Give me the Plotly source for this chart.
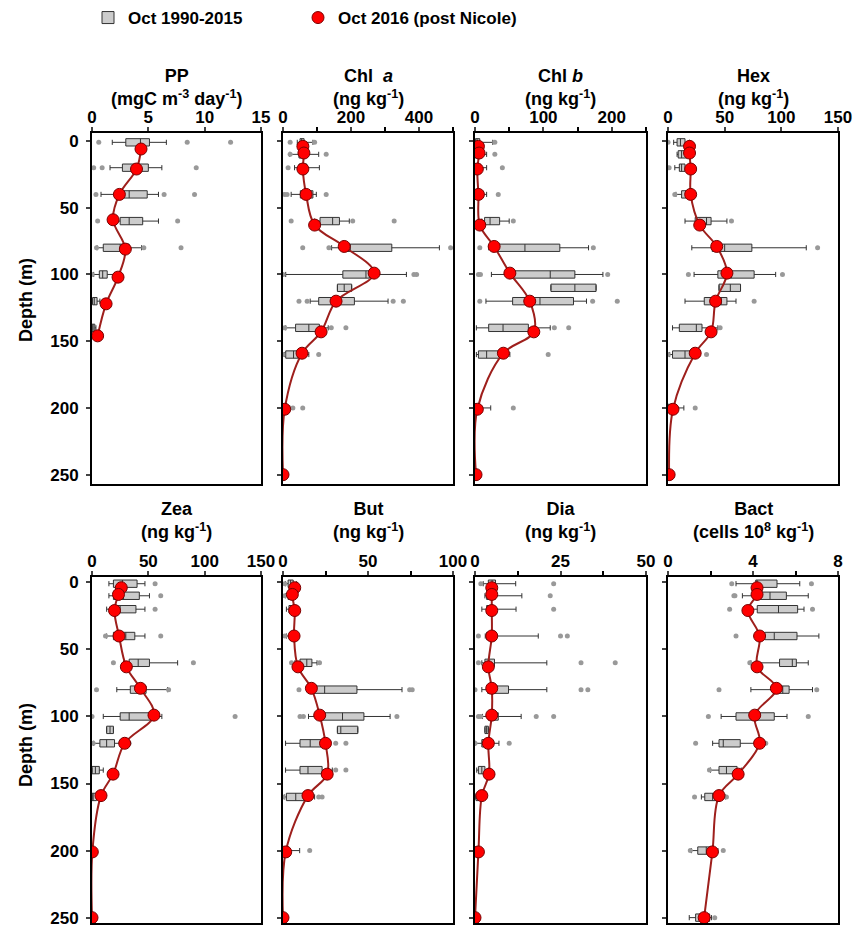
import plotly.graph_objects as go

# ---------------- data ----------------
RED_DEPTH = [4, 9, 21, 40, 63, 79, 99, 120, 143, 159, 201, 250]
BOX_DEPTH = [1, 10, 20, 40, 60, 80, 100, 110, 120, 140, 160, 200, 250]

# PP
PP_box_depth = [1, 20, 40, 60, 80, 100, 120, 140]
PP_lf = [1.8, 1.6, 0.8, 1.9, 0.45, 0.15, 0.0, 0.0]
PP_q1 = [3.0, 2.7, 2.8, 2.5, 1.0, 0.65, 0.05, 0.0]
PP_med = [4.3, 3.7, 3.3, 3.3, 2.5, 0.95, 0.2, 0.1]
PP_q3 = [5.1, 5.0, 4.9, 4.5, 3.3, 1.35, 0.45, 0.25]
PP_uf = [6.6, 6.2, 5.9, 5.9, 4.4, 2.0, 0.7, 0.35]
PP_out_depth = [1, 1, 1, 20, 20, 20, 40, 40, 40, 60, 60, 80, 80, 80, 100]
PP_out_val = [0.6, 8.45, 12.3, 0.15, 0.9, 9.25, 0.35, 6.4, 9.1, 0.5, 7.6, 0.4, 4.6, 7.9, 0.0]
PP_red_depth = [6, 21, 40, 59, 81, 102, 122, 146]
PP_red_val = [4.35, 3.95, 2.43, 1.87, 2.96, 2.31, 1.25, 0.5]

# Chl a
CHLA_lf = [42, 20, 34, 24, 93, 143, 8, 160, 80, 8, 5, 0, 0]
CHLA_q1 = [50, 47, 47, 51, 109, 185, 176, 160, 105, 37, 8, 0, 0]
CHLA_med = [55, 55, 58, 68, 146, 198, 244, 180, 144, 76, 31, 4, 1]
CHLA_q3 = [62, 66, 70, 88, 166, 320, 254, 202, 210, 107, 44, 10, 3]
CHLA_uf = [88, 105, 107, 98, 195, 460, 363, 202, 309, 133, 76, 20, 6]
CHLA_out_depth = [1, 1, 10, 10, 20, 40, 40, 40, 60, 60, 60, 80, 80, 80, 100, 100, 100,
                  120, 120, 120, 120, 140, 140, 140, 160, 160, 200, 200]
CHLA_out_val = [21, 93, 21, 127, 15, 5, 12, 127, 24, 205, 327, 58, 135, 493, 0, 385, 393,
                47, 71, 324, 354, 5, 142, 185, 0, 105, 29, 58]
CHLA_red_val = [58.5, 61.5, 58.5, 68, 93, 180, 268, 156, 112, 56, 5, 0]

# Chl b
CHLB_lf = [0, 0, 0, 0, 10, 20, 24, 111, 16, 2, 2, 0, 0]
CHLB_q1 = [0.5, 0.5, 0.5, 0.5, 14, 29, 51, 111, 55, 20, 5, 0, 0]
CHLB_med = [3, 3, 3, 4, 22, 73, 110, 146, 95, 41, 17, 1, 0.5]
CHLB_q3 = [7, 10, 8, 10, 36, 124, 146, 177, 144, 78, 41, 5, 2]
CHLB_uf = [26, 17, 17, 17, 50, 166, 187, 177, 163, 110, 51, 23, 4]
CHLB_out_depth = [1, 10, 20, 40, 60, 80, 80, 100, 100, 100, 120, 120, 120, 140, 140, 160, 200]
CHLB_out_val = [29, 29, 40, 34, 56, 7, 173, 5, 8, 194, 7, 172, 208, 116, 137, 107, 56]
CHLB_red_val = [5, 6, 3.4, 5, 7, 28, 51, 80, 86, 41.5, 3.4, 1.5]

# Hex
HEX_lf = [5, 8, 6, 7, 15, 21, 23, 45, 15, 4, 1.5, 0, 0]
HEX_q1 = [8, 9, 10, 12, 24, 39, 44, 45, 32, 10, 4, 0, 0]
HEX_med = [11, 12, 12, 16, 34, 50, 56, 55, 47, 25, 15, 1, 0.5]
HEX_q3 = [15, 17, 15, 20, 38, 74, 76, 64, 52, 30, 21, 4, 1.5]
HEX_uf = [19, 20, 19, 22, 52, 122, 95, 64, 60, 44, 27, 14, 3]
HEX_out_depth = [1, 20, 40, 60, 80, 100, 100, 120, 140, 160, 160, 200]
HEX_out_val = [0, 1, 6, 56, 132, 18, 101, 76, 46, 0, 34, 24]
HEX_red_val = [19, 19, 20, 20, 28, 43, 52, 42, 38, 24, 4.4, 1]

# Zea
ZEA_lf = [15, 15, 13, 13, 28, 22, 10, 13, 1.5, 0, 0, 0, 0]
ZEA_q1 = [19, 19, 19, 19, 33, 34, 25, 13, 7, 0, 0, 0, 0]
ZEA_med = [27, 28, 25, 30, 41, 41, 33, 16, 13, 3, 1, 0.2, 0.1]
ZEA_q3 = [40, 42, 39, 38, 51, 48, 54, 19, 20, 6.5, 4, 0.5, 0.3]
ZEA_uf = [47, 51, 47, 47, 76, 67, 62, 19, 31, 10, 6, 1, 0.5]
ZEA_out_depth = [1, 10, 20, 40, 40, 60, 60, 80, 80, 100, 100, 120, 120]
ZEA_out_val = [56, 61, 56, 12, 61, 19, 90, 4, 68, 0, 127, 1, 33]
ZEA_red_val = [26, 23.5, 20, 24, 30.5, 43, 55, 29, 18.7, 8, 0.3, 0]

# But
BUT_lf = [1.5, 1.5, 2, 2, 7, 14, 15, 32, 1.5, 1.5, 1, 0, 0]
BUT_q1 = [3, 3, 3.5, 4, 10, 17, 23.5, 32, 10, 10, 2, 0, 0]
BUT_med = [4.5, 4.5, 5, 5.5, 14, 24.5, 35, 34, 16, 14.7, 7.5, 1, 0.3]
BUT_q3 = [6, 6, 6.5, 7, 17, 43.5, 47.6, 44, 23.5, 23, 13, 3, 1]
BUT_uf = [8, 8, 7.5, 8, 20, 70, 63, 44, 28, 29, 18.6, 9.8, 2]
BUT_out_depth = [1, 10, 40, 60, 60, 80, 80, 80, 100, 100, 100, 120, 120, 140, 140, 160, 160, 160, 200]
BUT_out_val = [1, 1, 1, 5, 21.5, 9.4, 74.5, 76, 10, 12, 67, 31, 37, 31, 37, 0, 21, 23, 15.7]
BUT_red_val = [6.9, 5.5, 6.9, 6.5, 8.8, 16.7, 21.6, 25, 26, 14.7, 1.6, 0]

# Dia
DIA_lf = [2.4, 2.9, 2, 3, 2, 2, 2.2, 2.9, 0, 0.5, 0.2, 0, 0]
DIA_q1 = [3.9, 3.4, 3.4, 3.4, 2.9, 3.7, 3.9, 2.9, 2, 1, 0.3, 0, 0]
DIA_med = [5, 4.5, 4.5, 4.5, 4, 4.9, 5, 3.4, 2.7, 2, 1, 0.3, 0.1]
DIA_q3 = [6, 5.9, 5.5, 5.9, 5.7, 9.8, 6.8, 3.9, 3.4, 2.9, 1.7, 1, 0.5]
DIA_uf = [11.9, 13.7, 12, 18.5, 21, 21, 13.5, 3.9, 7, 4, 2.5, 1.5, 1]
DIA_out_depth = [1, 1, 10, 20, 40, 40, 40, 60, 60, 60, 80, 80, 80, 100, 100, 100, 100, 120, 120]
DIA_out_val = [1.7, 23, 22, 23, 1, 25, 27, 1, 31, 41, 0, 31, 33, 1, 1.7, 17.9, 23, 0, 10]
DIA_red_val = [4.9, 4.9, 4.9, 4.9, 3.9, 4.9, 4.9, 3.9, 4.1, 2, 1, 0]

# Bact
BACT_box_depth = [1, 10, 20, 40, 60, 80, 100, 120, 140, 160, 200, 250]
BACT_lf = [3.2, 3.5, 3.8, 4.3, 3.9, 3.9, 2.5, 2.1, 2.0, 1.57, 1.1, 1.0]
BACT_q1 = [4.13, 4.28, 4.2, 4.55, 5.25, 5.0, 3.2, 2.4, 2.4, 1.73, 1.4, 1.3]
BACT_med = [4.19, 4.8, 5.2, 5.0, 5.85, 5.4, 4.0, 2.6, 2.75, 2.1, 1.8, 1.55]
BACT_q3 = [5.13, 5.57, 6.1, 6.07, 6.04, 5.7, 5.0, 3.4, 3.25, 2.3, 2.04, 1.96]
BACT_uf = [6.2, 6.6, 6.4, 7.1, 6.6, 6.8, 5.6, 4.5, 3.45, 2.7, 2.35, 2.05]
BACT_out_depth = [1, 1, 10, 10, 20, 20, 40, 60, 80, 80, 100, 100, 120, 120, 140, 160, 160, 200, 200, 250]
BACT_out_val = [3.0, 6.75, 3.1, 3.15, 2.9, 6.8, 3.2, 3.85, 2.4, 7.0, 1.9, 6.6, 1.3, 4.6, 1.95, 1.25, 2.75, 1.05, 2.6, 2.2]
BACT_red_val = [4.19, 4.19, 3.76, 4.31, 4.19, 5.1, 4.08, 4.31, 3.3, 2.4, 2.09, 1.7]

TITLES = ["PP<br>(mgC m<sup>-3</sup> day<sup>-1</sup>)", "Chl  <i>a</i><br>(ng kg<sup>-1</sup>)",
          "Chl <i>b</i><br>(ng kg<sup>-1</sup>)", "Hex<br>(ng kg<sup>-1</sup>)",
          "Zea<br>(ng kg<sup>-1</sup>)", "But<br>(ng kg<sup>-1</sup>)",
          "Dia<br>(ng kg<sup>-1</sup>)", "Bact<br>(cells 10<sup>8</sup> kg<sup>-1</sup>)"]
X_TICKVALS = [[0, 5, 10, 15], [0, 200, 400], [0, 100, 200], [0, 50, 100, 150],
              [0, 50, 100, 150], [0, 50, 100], [0, 25, 50], [0, 4, 8]]
X_MINORVALS = [[], [100, 300, 500], [50, 150, 250], [], [], [25, 75], [12.5, 37.5], [2, 6]]
X_RANGES = [[0, 15], [0, 500], [0, 250], [0, 150], [0, 150], [0, 100], [0, 50], [0, 8]]
DEPTH_TICKS = [0, 50, 100, 150, 200, 250]

panels = [
    (PP_box_depth, PP_lf, PP_q1, PP_med, PP_q3, PP_uf, PP_out_depth, PP_out_val, PP_red_depth, PP_red_val),
    (BOX_DEPTH, CHLA_lf, CHLA_q1, CHLA_med, CHLA_q3, CHLA_uf, CHLA_out_depth, CHLA_out_val, RED_DEPTH, CHLA_red_val),
    (BOX_DEPTH, CHLB_lf, CHLB_q1, CHLB_med, CHLB_q3, CHLB_uf, CHLB_out_depth, CHLB_out_val, RED_DEPTH, CHLB_red_val),
    (BOX_DEPTH, HEX_lf, HEX_q1, HEX_med, HEX_q3, HEX_uf, HEX_out_depth, HEX_out_val, RED_DEPTH, HEX_red_val),
    (BOX_DEPTH, ZEA_lf, ZEA_q1, ZEA_med, ZEA_q3, ZEA_uf, ZEA_out_depth, ZEA_out_val, RED_DEPTH, ZEA_red_val),
    (BOX_DEPTH, BUT_lf, BUT_q1, BUT_med, BUT_q3, BUT_uf, BUT_out_depth, BUT_out_val, RED_DEPTH, BUT_red_val),
    (BOX_DEPTH, DIA_lf, DIA_q1, DIA_med, DIA_q3, DIA_uf, DIA_out_depth, DIA_out_val, RED_DEPTH, DIA_red_val),
    (BACT_box_depth, BACT_lf, BACT_q1, BACT_med, BACT_q3, BACT_uf, BACT_out_depth, BACT_out_val, RED_DEPTH, BACT_red_val),
]

# ---------------- layout geometry (pixels) ----------------
W, H = 853, 927
COL_X = [(92, 261), (283, 453), (475, 646), (668, 838)]
ROW_Y = [(133, 484), (577, 923)]
ROW_RANGE = [[257, -6], [254, -4]]
TITLE_BOTTOM = [111, 544]
FONT = "Liberation Sans, Arial, sans-serif"

fig = go.Figure()
layout = dict(width=W, height=H, margin=dict(l=0, r=0, t=0, b=0, autoexpand=False),
              plot_bgcolor="white", paper_bgcolor="white",
              font=dict(family=FONT, color="black"), annotations=[])

for i, (bd, lf, q1, med, q3, uf, od, ov, rd, rv) in enumerate(panels):
    r, c = divmod(i, 4)
    xa = "x" if i == 0 else f"x{i+1}"
    ya = "y" if i == 0 else f"y{i+1}"
    fig.add_trace(go.Box(y=bd, lowerfence=lf, q1=q1, median=med, q3=q3, upperfence=uf,
                         orientation="h", xaxis=xa, yaxis=ya, width=5.5, whiskerwidth=0.7,
                         fillcolor="#cccccc", line=dict(color="#333333", width=1),
                         boxpoints=False, name="Oct 1990-2015", showlegend=(i == 0),
                         legend="legend"))
    fig.add_trace(go.Scatter(x=ov, y=od, mode="markers", xaxis=xa, yaxis=ya,
                             marker=dict(color="#999999", size=5), showlegend=False))
    fig.add_trace(go.Scatter(x=rv, y=rd, mode="lines", xaxis=xa, yaxis=ya,
                             line=dict(color="#9E1F1C", width=2, shape="spline", smoothing=1),
                             showlegend=False))
    fig.add_trace(go.Scatter(x=rv, y=rd, mode="markers", xaxis=xa, yaxis=ya,
                             marker=dict(color="#FF0000", size=12, line=dict(color="#7A0000", width=1)),
                             name="Oct 2016 (post Nicole)", showlegend=(i == 0), legend="legend2"))
    x0, x1 = COL_X[c]
    y0, y1 = ROW_Y[r]
    axkey = "xaxis" if i == 0 else f"xaxis{i+1}"
    aykey = "yaxis" if i == 0 else f"yaxis{i+1}"
    xdict = dict(domain=[x0 / W, x1 / W], anchor=ya, side="top", range=X_RANGES[i],
                 tickmode="array", tickvals=X_TICKVALS[i], ticks="outside", ticklen=4,
                 tickwidth=1.5, showline=True, linewidth=2, linecolor="black", mirror=True,
                 showgrid=False, zeroline=False, ticklabelstandoff=-3, ticklabeloverflow="allow",
                 tickfont=dict(size=17, weight="bold", family=FONT))
    if X_MINORVALS[i]:
        xdict["minor"] = dict(tickmode="array", tickvals=X_MINORVALS[i], ticks="outside",
                              ticklen=4, tickwidth=1.5, tickcolor="black", showgrid=False)
    layout[axkey] = xdict
    layout[aykey] = dict(domain=[1 - y1 / H, 1 - y0 / H], anchor=xa, range=ROW_RANGE[r],
                         tickmode="array", tickvals=DEPTH_TICKS, ticks="outside", ticklen=4,
                         tickwidth=1.5, showticklabels=(c == 0), showline=True, linewidth=2,
                         linecolor="black", mirror=True, showgrid=False, zeroline=False,
                         ticklabelstandoff=4, ticklabeloverflow="allow",
                         tickfont=dict(size=17, weight="bold", family=FONT))
    layout["annotations"].append(dict(
        text="<b>" + TITLES[i] + "</b>", xref="paper", yref="paper",
        x=(x0 + x1) / 2 / W, y=1 - TITLE_BOTTOM[r] / H, xanchor="center", yanchor="bottom",
        showarrow=False, font=dict(size=18, family=FONT)))

for r, yc in enumerate([300, 745]):
    layout["annotations"].append(dict(
        text="<b>Depth (m)</b>", xref="paper", yref="paper", x=26 / W, y=1 - yc / H,
        xanchor="center", yanchor="middle",
        textangle=-90, showarrow=False, font=dict(size=18, family=FONT)))

legend_style = dict(orientation="h", y=1, xanchor="left", yanchor="top",
                    font=dict(size=17, weight="bold", family=FONT), bgcolor="rgba(0,0,0,0)")
layout["legend"] = dict(x=88 / W, **legend_style)
layout["legend2"] = dict(x=298 / W, **legend_style)
fig.update_layout(**layout)
fig.write_html("out.html", config={"displayModeBar": False},
               post_script="document.body.style.margin='0px';")
